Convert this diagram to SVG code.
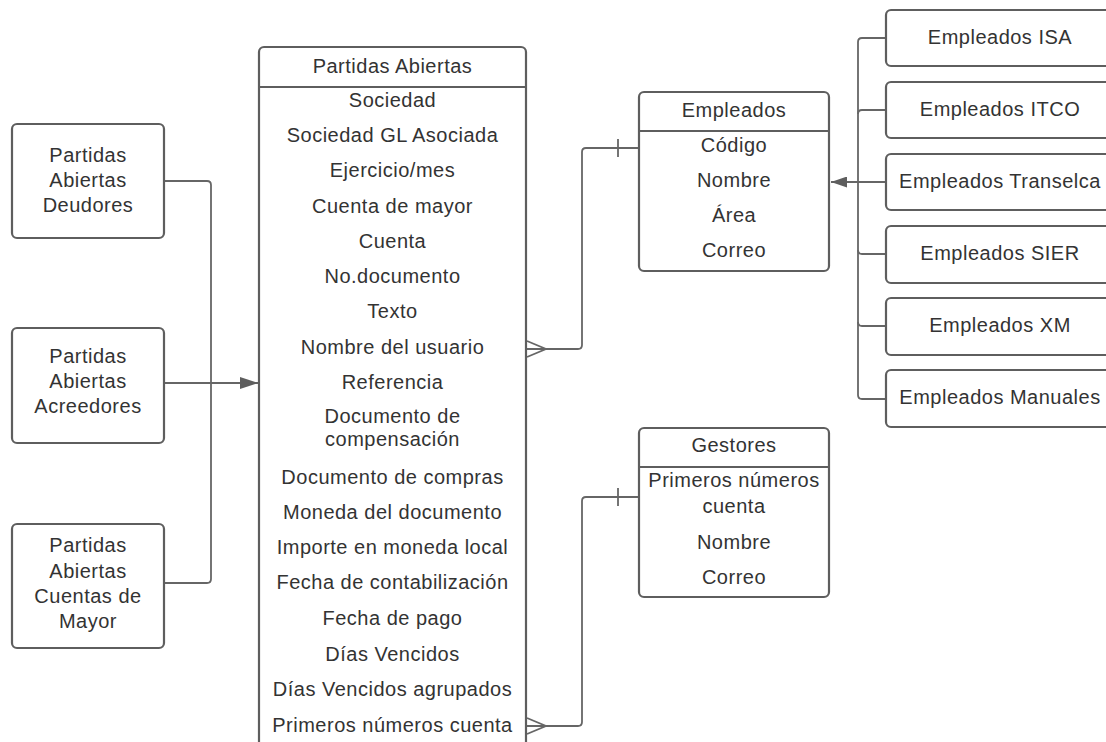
<svg xmlns="http://www.w3.org/2000/svg" width="1106" height="742" viewBox="0 0 1106 742">
  <defs>
    <marker id="arrow" viewBox="0 0 18 12" refX="18" refY="6" markerWidth="18" markerHeight="12" markerUnits="userSpaceOnUse" orient="auto">
      <path d="M0,0 L18,6 L0,12 Z" fill="#5e5e5e"/>
    </marker>
    <marker id="arrow-sm" viewBox="0 0 16 11" refX="16" refY="5.5" markerWidth="16" markerHeight="11" markerUnits="userSpaceOnUse" orient="auto">
      <path d="M0,0 L16,5.5 L0,11 Z" fill="#5e5e5e"/>
    </marker>
  </defs>
  <style>
    .box { fill: #ffffff; stroke: #5e5e5e; stroke-width: 2.2; }
    .sep { stroke: #5e5e5e; stroke-width: 2.2; }
    .conn { fill: none; stroke: #666666; stroke-width: 1.8; }
    text { font-family: "Liberation Sans", Arial, sans-serif; font-size: 20px; letter-spacing: 0.5px; fill: #333333; text-anchor: middle; }
  </style>
  <rect width="1106" height="742" fill="#ffffff"/>

  <!-- Connectors -->
  <g id="connectors">
    <!-- sources feeding the open items table -->
    <path class="conn" d="M164,181 H207 Q211,181 211,185 V579 Q211,583 207,583 H164"/>
    <path class="conn" d="M164,383 H258" marker-end="url(#arrow)"/>
    <!-- open items to employees -->
    <path class="conn" d="M526,349 H578 Q582,349 582,345 V152 Q582,148 586,148 H639"/>
    <path class="conn" d="M527,341 L546,349 L527,357"/>
    <path class="conn" d="M618,139 V157"/>
    <!-- open items to managers -->
    <path class="conn" d="M526,726 H578 Q582,726 582,722 V501 Q582,497 586,497 H639"/>
    <path class="conn" d="M527,718 L546,726 L527,734"/>
    <path class="conn" d="M618,488 V506"/>
    <!-- employee sources bus -->
    <path class="conn" d="M886,38 H862 Q858,38 858,42 V395 Q858,399 862,399 H886"/>
    <path class="conn" d="M886,110 H862 Q858,110 858,114"/>
    <path class="conn" d="M886,254 H862 Q858,254 858,250"/>
    <path class="conn" d="M886,326 H862 Q858,326 858,322"/>
    <path class="conn" d="M886,182 H831" marker-end="url(#arrow-sm)"/>
  </g>

  <!-- Source boxes -->
  <g id="pa-deudores">
    <rect class="box" x="12" y="124" width="152" height="114" rx="5"/>
    <text x="88" y="162">Partidas</text>
    <text x="88" y="187">Abiertas</text>
    <text x="88" y="212">Deudores</text>
  </g>
  <g id="pa-acreedores">
    <rect class="box" x="12" y="328" width="152" height="115" rx="5"/>
    <text x="88" y="363">Partidas</text>
    <text x="88" y="388">Abiertas</text>
    <text x="88" y="413">Acreedores</text>
  </g>
  <g id="pa-cuentas-mayor">
    <rect class="box" x="12" y="524" width="152" height="124" rx="5"/>
    <text x="88" y="552">Partidas</text>
    <text x="88" y="578">Abiertas</text>
    <text x="88" y="603">Cuentas de</text>
    <text x="88" y="628">Mayor</text>
  </g>

  <!-- Open items table -->
  <g id="partidas-abiertas">
    <rect class="box" x="259" y="47" width="267" height="700" rx="5"/>
    <line class="sep" x1="259" y1="87" x2="526" y2="87"/>
    <text x="392.5" y="73">Partidas Abiertas</text>
    <text x="392.5" y="107">Sociedad</text>
    <text x="392.5" y="142">Sociedad GL Asociada</text>
    <text x="392.5" y="177">Ejercicio/mes</text>
    <text x="392.5" y="213">Cuenta de mayor</text>
    <text x="392.5" y="248">Cuenta</text>
    <text x="392.5" y="283">No.documento</text>
    <text x="392.5" y="318">Texto</text>
    <text x="392.5" y="354">Nombre del usuario</text>
    <text x="392.5" y="389">Referencia</text>
    <text x="392.5" y="423">Documento de</text>
    <text x="392.5" y="446">compensación</text>
    <text x="392.5" y="484">Documento de compras</text>
    <text x="392.5" y="519">Moneda del documento</text>
    <text x="392.5" y="554">Importe en moneda local</text>
    <text x="392.5" y="589">Fecha de contabilización</text>
    <text x="392.5" y="625">Fecha de pago</text>
    <text x="392.5" y="661">Días Vencidos</text>
    <text x="392.5" y="696">Días Vencidos agrupados</text>
    <text x="392.5" y="732">Primeros números cuenta</text>
  </g>

  <!-- Employees table -->
  <g id="empleados">
    <rect class="box" x="639" y="92" width="190" height="179" rx="5"/>
    <line class="sep" x1="639" y1="131" x2="829" y2="131"/>
    <text x="734" y="117">Empleados</text>
    <text x="734" y="152">Código</text>
    <text x="734" y="187">Nombre</text>
    <text x="734" y="222">Área</text>
    <text x="734" y="257">Correo</text>
  </g>

  <!-- Managers table -->
  <g id="gestores">
    <rect class="box" x="639" y="428" width="190" height="169" rx="5"/>
    <line class="sep" x1="639" y1="467" x2="829" y2="467"/>
    <text x="734" y="452">Gestores</text>
    <text x="734" y="487">Primeros números</text>
    <text x="734" y="513">cuenta</text>
    <text x="734" y="549">Nombre</text>
    <text x="734" y="584">Correo</text>
  </g>

  <!-- Employee sources -->
  <g id="empleados-isa">
    <rect class="box" x="886" y="10" width="228" height="56" rx="5"/>
    <text x="1000" y="44">Empleados ISA</text>
  </g>
  <g id="empleados-itco">
    <rect class="box" x="886" y="82" width="228" height="56" rx="5"/>
    <text x="1000" y="116">Empleados ITCO</text>
  </g>
  <g id="empleados-transelca">
    <rect class="box" x="886" y="154" width="228" height="56" rx="5"/>
    <text x="1000" y="188">Empleados Transelca</text>
  </g>
  <g id="empleados-sier">
    <rect class="box" x="886" y="226" width="228" height="57" rx="5"/>
    <text x="1000" y="260">Empleados SIER</text>
  </g>
  <g id="empleados-xm">
    <rect class="box" x="886" y="298" width="228" height="57" rx="5"/>
    <text x="1000" y="332">Empleados XM</text>
  </g>
  <g id="empleados-manuales">
    <rect class="box" x="886" y="370" width="228" height="57" rx="5"/>
    <text x="1000" y="404">Empleados Manuales</text>
  </g>
</svg>
